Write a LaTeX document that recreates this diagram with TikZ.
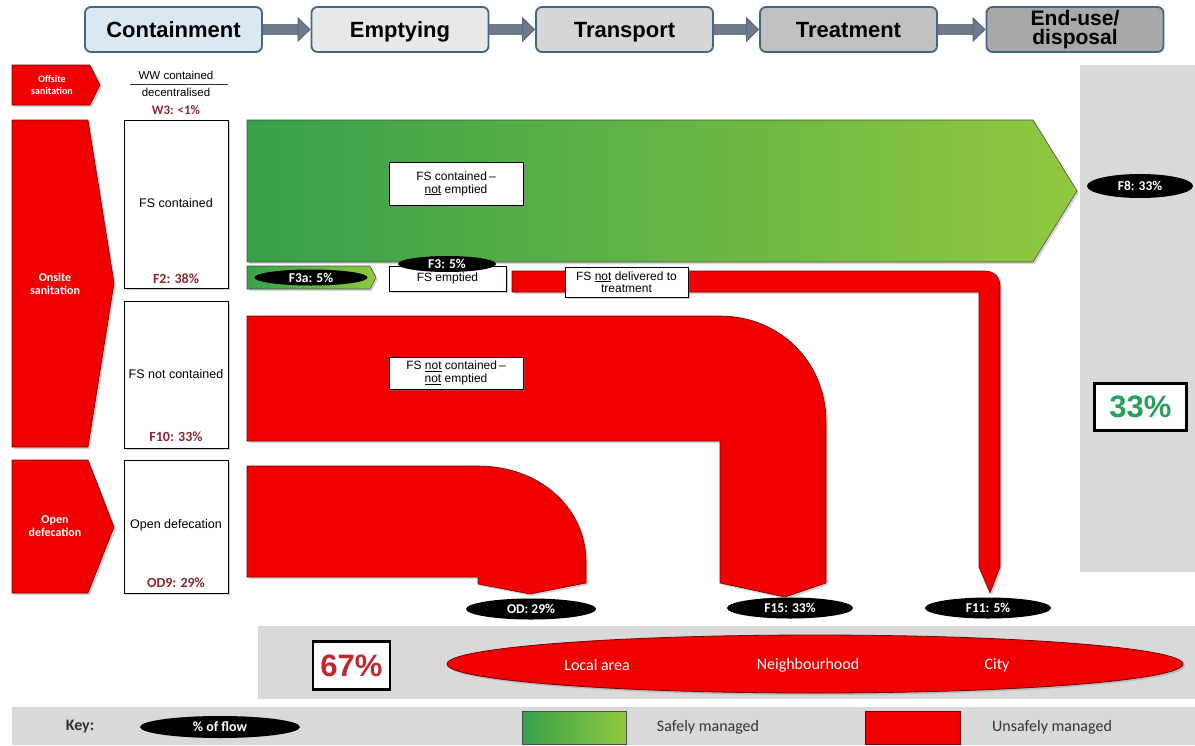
\documentclass[tikz,border=0pt]{standalone}
\usepackage{fontspec}
\setmainfont{Liberation Sans}
\newfontfamily\calib{Carlito}
\usetikzlibrary{shapes.geometric,arrows.meta,shadows}
\definecolor{hdrline}{RGB}{70,100,135}
\definecolor{contfill}{RGB}{218,232,243}
\definecolor{emptfill}{RGB}{232,232,232}
\definecolor{transfill}{RGB}{214,214,214}
\definecolor{treatfill}{RGB}{192,192,192}
\definecolor{endfill}{RGB}{168,168,168}
\definecolor{shaft}{RGB}{110,122,135}
\definecolor{headc}{RGB}{75,105,140}
\definecolor{flowred}{RGB}{240,0,0}
\definecolor{redline}{RGB}{120,0,0}
\definecolor{darkred}{RGB}{140,40,45}
\definecolor{panel}{RGB}{217,217,217}
\definecolor{gleft}{RGB}{55,160,75}
\definecolor{gright}{RGB}{145,200,62}
\definecolor{pctgreen}{RGB}{40,160,90}
\definecolor{pctred}{RGB}{192,40,45}
\tikzset{
  hdr/.style={draw=hdrline, line width=1.8pt, rounded corners=6pt, minimum width=177pt, minimum height=45pt, inner sep=0pt, font=\fontsize{22}{22}\selectfont\bfseries, align=center, text height=15.5pt, text depth=0pt},
  hdrarrow/.style={line width=11pt, draw=shaft, -{Triangle[length=13pt,width=25pt,fill=shaft,color=headc,line width=1pt]}},
  redarrow/.style={fill=flowred, draw=redline, line width=0.6pt, drop shadow={shadow xshift=2pt,shadow yshift=-2pt,opacity=0.35}},
  redflow/.style={fill=flowred, draw=redline, line width=0.6pt, drop shadow={shadow xshift=2pt,shadow yshift=-2pt,opacity=0.35}},
  greenflow/.style={left color=gleft, right color=gright, draw=black!70, line width=0.6pt, drop shadow={shadow xshift=2pt,shadow yshift=-2pt,opacity=0.3}},
  sideText/.style={text=white, font=\calib\fontsize{12}{13.5}\selectfont\bfseries, align=center},
  wbox/.style={draw=black, fill=white, line width=0.8pt, inner sep=0pt, drop shadow={shadow xshift=2pt,shadow yshift=-2pt,opacity=0.35}},
  boxText/.style={font=\fontsize{12.5}{13}\selectfont, align=center},
  pct/.style={text=darkred, font=\calib\fontsize{14}{14}\selectfont\bfseries},
  label/.style={draw=black, fill=white, line width=0.8pt, inner sep=0pt, font=\fontsize{12}{13}\selectfont, align=center, drop shadow={shadow xshift=2pt,shadow yshift=-2pt,opacity=0.4}},
  flowpct/.style={ellipse, fill=black, inner sep=0pt, text=white, font=\calib\fontsize{13.5}{13.5}\selectfont\bfseries},
  bigpct/.style={draw=black, fill=white, line width=2.2pt, inner sep=0pt, font=\fontsize{31}{31}\selectfont\bfseries},
  areaText/.style={text=white, font=\calib\fontsize{16}{16}\selectfont},
  keyText/.style={font=\calib\fontsize{16}{16}\selectfont, text=black!80}
}
\begin{document}
\begin{tikzpicture}[x=1pt,y=-1pt]
\path[use as bounding box, fill=white] (0,0) rectangle (1195,745);

% ---- header chain ----
\node[hdr, fill=contfill] (cont) at (173.5,29.5) {Containment};
\node[hdr, fill=emptfill] (empt) at (400,29.5) {Emptying};
\node[hdr, fill=transfill] (trans) at (624.5,29.5) {Transport};
\node[hdr, fill=treatfill] (treat) at (848.5,29.5) {Treatment};
\node[hdr, fill=endfill, text height=, text depth=, font=\fontsize{21}{19}\selectfont\bfseries] (endu) at (1075,29.5) {End-use/\\disposal};
\draw[hdrarrow] (cont.east) -- (empt.west);
\draw[hdrarrow] (empt.east) -- (trans.west);
\draw[hdrarrow] (trans.east) -- (treat.west);
\draw[hdrarrow] (treat.east) -- (endu.west);

% ---- right gray panel ----
\fill[panel] (1080,65) rectangle (1195,572);
% ---- bottom panels ----
\fill[panel] (258,626) rectangle (1195,699);
\fill[panel] (12,707) rectangle (1195,745);

% ---- left column ----
\path[redarrow] (12,65) -- (90,65) -- (100,85) -- (90,105) -- (12,105) -- cycle;
\node[sideText, font=\calib\fontsize{10}{11.5}\selectfont\bfseries] (offsite) at (52,85) {Offsite\\sanitation};
\node[font=\fontsize{11.5}{12}\selectfont] (ww1) at (176,75) {WW contained};
\node[font=\fontsize{11.5}{12}\selectfont] (ww2) at (176,92) {decentralised};
\draw[black!80, line width=0.8pt] (130,84) -- (228,84);
\node[pct, font=\calib\fontsize{13}{13}\selectfont\bfseries] (w3) at (176,110) {W3: <1\%};

\path[redarrow] (12,120) -- (88,120) -- (114,283) -- (88,447) -- (12,447) -- cycle;
\node[sideText] (onsite) at (55,284) {Onsite\\sanitation};
\path[redarrow] (12,460) -- (88,460) -- (114,527) -- (88,593) -- (12,593) -- cycle;
\node[sideText] (opend) at (55,526) {Open\\defecation};

\node[wbox, minimum width=104pt, minimum height=168pt] (fsc) at (176,204) {};
\node[boxText] (fsct) at (176,203) {FS contained};
\node[pct] (f2) at (176,279) {F2: 38\%};
\node[wbox, minimum width=104pt, minimum height=147pt] (fsn) at (176,374.5) {};
\node[boxText] (fsnt) at (176,374) {FS not contained};
\node[pct] (f10) at (176,437) {F10: 33\%};
\node[wbox, minimum width=104pt, minimum height=133pt] (odb) at (176,526.5) {};
\node[boxText] (odbt) at (176,525) {Open defecation};
\node[pct] (od9) at (176,583) {OD9: 29\%};

% ---- green flow ----
\path[greenflow] (247,120) -- (1033,120) -- (1077,191) -- (1033,262) -- (247,262) -- cycle;
\node[label, minimum width=134pt, minimum height=43pt] (fsce) at (456,183.5) {FS contained\,--\\\underline{not} emptied};
\path[greenflow] (247,266) -- (370,266) -- (376,277.5) -- (370,289) -- (247,289) -- cycle;
\node[flowpct, minimum width=113pt, minimum height=16pt] (f3a) at (311,277.5) {F3a: 5\%};

% ---- thin red flow F11 ----
\path[redflow] (512,271) -- (985,271) .. controls (994,271) and (1000,277) .. (1000,286) -- (1000,567) -- (990,593) -- (979,567) -- (979,292) -- (512,292) -- cycle;
\node[label, minimum width=117pt, minimum height=25pt] (fse) at (447.5,278.5) {\raisebox{-4pt}{FS emptied}};
\node[flowpct, minimum width=98pt, minimum height=16pt] (f3) at (447,264) {F3: 5\%};
\node[label, minimum width=123pt, minimum height=30pt, font=\fontsize{12}{12.5}\selectfont] (fsnd) at (626.5,282) {FS \underline{not} delivered to\\treatment};

% ---- big red flow F10 ----
\path[redflow] (247,316) -- (720,316) .. controls (780,316) and (826,362) .. (826,422) -- (826,583) -- (785,597) -- (720,583) -- (720,441) -- (247,441) -- cycle;
\node[label, minimum width=134pt, minimum height=32pt] (fsnce) at (456,373) {FS \underline{not} contained\,--\\\underline{not} emptied};

% ---- open defecation flow ----
\path[redflow] (247,466) -- (478,466) .. controls (540,466) and (586,508) .. (586,562) -- (586,583) -- (530,594) -- (478,584) -- (478,577) -- (247,577) -- cycle;

% ---- outcome ellipses ----
\node[flowpct, minimum width=130pt, minimum height=21pt] (odp) at (531,609) {OD: 29\%};
\node[flowpct, minimum width=126pt, minimum height=21pt] (f15) at (790,608) {F15: 33\%};
\node[flowpct, minimum width=126pt, minimum height=21pt] (f11) at (988,608) {F11: 5\%};
\node[flowpct, minimum width=106pt, minimum height=24pt] (f8) at (1140,186) {F8: 33\%};

% ---- percentages ----
\node[bigpct, text=pctgreen, minimum width=92pt, minimum height=47pt] (p33) at (1140.5,407) {33\%};
\node[bigpct, text=pctred, minimum width=77pt, minimum height=48pt] (p67) at (351.5,665.5) {67\%};

% ---- area ellipse ----
\node[ellipse, fill=flowred, draw=redline, line width=0.8pt, minimum width=736pt, minimum height=58pt, drop shadow={shadow xshift=2pt,shadow yshift=-2pt,opacity=0.35}] (area) at (815,664) {};
\node[areaText] (loc) at (597,665) {Local area};
\node[areaText] (nbh) at (808,665) {Neighbourhood};
\node[areaText] (city) at (997,665) {City};

% ---- key ----
\node[keyText, font=\calib\fontsize{16}{16}\selectfont\bfseries] (key) at (80,727) {Key:};
\node[flowpct, minimum width=160pt, minimum height=22pt, font=\calib\fontsize{14}{14}\selectfont\bfseries] (keyflow) at (220,727) {\% of flow};
\node[draw=black!70, line width=0.8pt, left color=gleft, right color=gright, minimum width=104pt, minimum height=33pt, inner sep=0pt] (keygreen) at (574,727.5) {};
\node[keyText] (safe) at (708,727) {Safely managed};
\node[draw=redline, line width=0.8pt, fill=flowred, minimum width=95pt, minimum height=33pt, inner sep=0pt] (keyred) at (912.5,727.5) {};
\node[keyText] (unsafe) at (1052,727) {Unsafely managed};
\end{tikzpicture}
\end{document}
